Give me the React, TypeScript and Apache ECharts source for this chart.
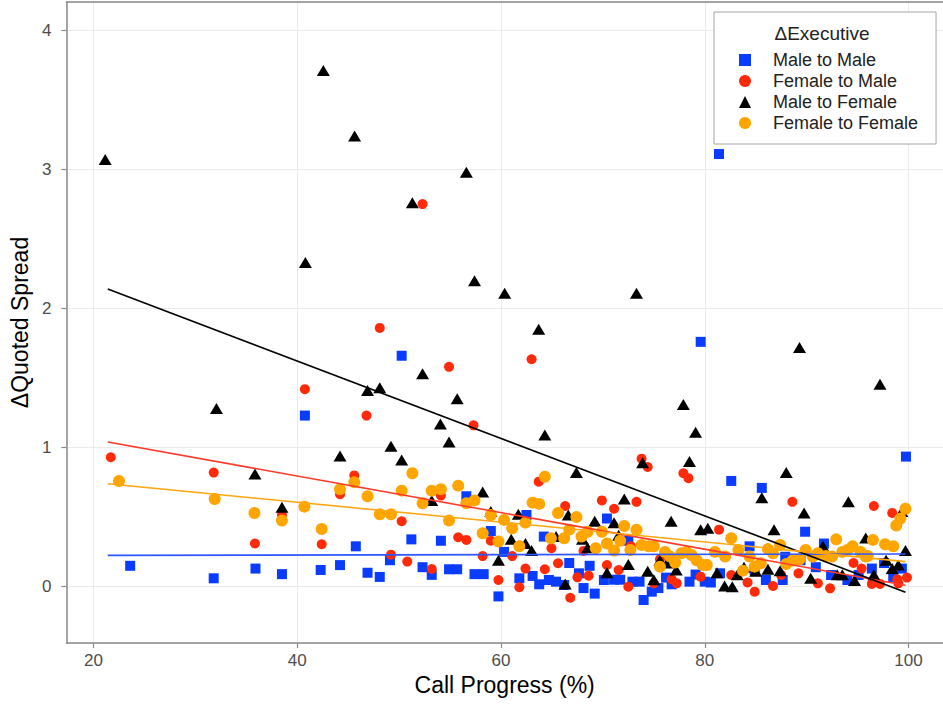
import React, { useEffect, useRef } from "react";
import * as echarts from "echarts";

const seriesNames = ["Male to Male", "Female to Male", "Male to Female", "Female to Female"];

const maleToMale: number[][] = [
  [23.6, 0.15], [31.8, 0.06], [35.9, 0.13], [38.5, 0.09], [40.75, 1.23], [42.3, 0.12], [44.2, 0.155],
  [45.75, 0.29], [46.9, 0.1], [48.1, 0.07], [49.1, 0.19], [50.25, 1.66], [51.2, 0.34], [52.3, 0.14],
  [53.2, 0.085], [54.1, 0.33], [54.9, 0.125], [55.7, 0.125], [56.6, 0.65], [57.4, 0.09], [58.3, 0.09],
  [59.0, 0.4], [59.75, -0.07], [60.3, 0.25], [61.8, 0.06], [62.5, 0.515], [63.1, 0.077], [63.75, 0.017],
  [64.2, 0.36], [64.7, 0.048], [65.4, 0.036], [66.2, 0.012], [66.7, 0.17], [67.65, 0.096], [68.1, -0.01],
  [68.7, 0.15], [69.2, -0.05], [70.1, 0.048], [70.4, 0.49], [71.1, 0.05], [71.7, 0.05], [72.5, 0.33],
  [72.9, 0.036], [73.6, 0.036], [74.0, -0.096], [74.8, -0.036], [75.45, -0.01], [76.2, 0.065],
  [76.75, 0.017], [78.5, 0.036], [79.1, 0.087], [79.6, 1.76], [80.0, 0.036], [80.6, 0.03], [81.4, 3.11],
  [81.5, 0.096], [82.6, 0.76], [84.4, 0.29], [84.9, 0.12], [85.6, 0.71], [86.0, 0.048], [87.65, 0.048],
  [87.9, 0.215], [89.4, 0.19], [89.85, 0.395], [90.9, 0.14], [91.7, 0.31], [92.4, 0.084], [94.0, 0.048],
  [95.1, 0.084], [96.4, 0.13], [97.6, 0.17], [98.5, 0.07], [99.35, 0.13], [99.75, 0.935],
];

const femaleToMale: number[][] = [
  [21.7, 0.93], [31.8, 0.82], [35.85, 0.31], [38.5, 0.515], [40.75, 1.42], [42.4, 0.305], [44.2, 0.665],
  [45.6, 0.8], [46.8, 1.23], [48.1, 1.86], [49.2, 0.23], [50.25, 0.47], [50.8, 0.18], [52.3, 2.75],
  [53.2, 0.127], [54.1, 0.655], [54.9, 1.58], [55.8, 0.355], [56.6, 0.336], [57.3, 1.16], [58.2, 0.22],
  [59.0, 0.33], [59.75, 0.048], [61.1, 0.22], [61.8, -0.004], [62.4, 0.13], [63.0, 1.635], [63.7, 0.755],
  [64.3, 0.125], [64.95, 0.276], [65.6, 0.168], [66.3, 0.58], [66.8, -0.08], [67.5, 0.067], [68.1, 0.257],
  [68.6, 0.079], [69.9, 0.62], [70.4, 0.156], [71.1, 0.56], [71.55, 0.12], [72.5, 0.0], [72.75, 0.29],
  [73.3, 0.61], [73.8, 0.92], [74.4, 0.86], [75.0, 0.024], [75.6, 0.197], [76.75, 0.053], [77.25, 0.024],
  [77.9, 0.815], [78.4, 0.78], [79.6, 0.072], [81.4, 0.41], [82.6, 0.084], [84.2, 0.03], [84.9, -0.036],
  [86.7, 0.005], [87.5, 0.084], [88.6, 0.61], [89.2, 0.096], [91.1, 0.024], [92.3, -0.012], [94.6, 0.17],
  [95.4, 0.13], [96.4, 0.02], [96.6, 0.58], [97.2, 0.02], [98.4, 0.53], [98.9, 0.053], [99.0, 0.024],
  [99.85, 0.065],
];

const maleToFemale: number[][] = [
  [21.15, 3.07], [32.07, 1.28], [35.85, 0.81], [38.5, 0.57], [40.8, 2.33], [42.56, 3.71], [44.2, 0.94],
  [45.63, 3.24], [46.9, 1.41], [48.1, 1.43], [49.2, 1.01], [50.25, 0.91], [51.3, 2.76], [52.3, 1.53],
  [53.2, 0.62], [54.05, 1.17], [54.9, 1.04], [55.7, 1.35], [56.6, 2.98], [57.4, 2.2], [58.2, 0.68],
  [59.0, 0.54], [59.75, 0.19], [60.36, 2.11], [61.0, 0.34], [61.7, 0.52], [62.4, 0.31], [63.0, 0.26],
  [63.7, 1.85], [64.3, 1.09], [65.4, 0.36], [66.3, 0.02], [66.6, 0.515], [67.4, 0.82], [68.0, 0.34],
  [68.5, 0.28], [69.2, 0.47], [70.4, 0.1], [71.1, 0.46], [71.55, 0.37], [72.1, 0.63], [72.5, 0.16],
  [73.3, 2.11], [73.9, 0.89], [74.4, 0.11], [75.0, 0.05], [75.6, 0.19], [76.3, 0.17], [76.7, 0.47],
  [77.2, 0.12], [77.9, 1.31], [78.5, 0.9], [79.1, 1.11], [79.6, 0.41], [80.3, 0.42], [81.2, 0.1],
  [81.95, 0.005], [82.7, 0.0], [83.2, 0.085], [83.85, 0.14], [85.0, 0.11], [85.6, 0.64], [86.2, 0.125],
  [86.8, 0.41], [87.4, 0.115], [88.0, 0.82], [89.3, 1.72], [89.75, 0.53], [90.4, 0.06], [91.6, 0.29],
  [93.0, 0.085], [93.5, 0.085], [94.1, 0.61], [94.7, 0.045], [95.8, 0.35], [96.6, 0.085], [97.2, 1.455],
  [97.8, 0.19], [98.4, 0.13], [99.0, 0.155], [99.35, 0.54], [99.7, 0.26],
];

const femaleToFemale: number[][] = [
  [22.5, 0.76], [31.9, 0.63], [35.8, 0.53], [38.5, 0.475], [40.7, 0.575], [42.4, 0.415], [44.2, 0.7],
  [45.6, 0.75], [46.9, 0.65], [48.1, 0.52], [49.2, 0.52], [50.25, 0.69], [51.3, 0.815], [52.3, 0.6],
  [53.2, 0.69], [54.1, 0.7], [54.9, 0.475], [55.8, 0.726], [56.6, 0.6], [57.4, 0.62], [58.2, 0.384],
  [59.0, 0.515], [59.75, 0.324], [60.3, 0.48], [61.1, 0.42], [61.8, 0.29], [62.4, 0.46], [63.1, 0.604],
  [63.75, 0.595], [64.3, 0.79], [64.9, 0.348], [65.6, 0.53], [66.2, 0.348], [66.7, 0.41], [67.4, 0.5],
  [67.9, 0.36], [68.5, 0.395], [69.3, 0.276], [69.9, 0.395], [70.4, 0.31], [71.1, 0.26], [71.7, 0.33],
  [72.1, 0.436], [72.7, 0.264], [73.3, 0.41], [73.8, 0.3], [74.5, 0.29], [75.0, 0.29], [75.6, 0.144],
  [76.1, 0.25], [76.6, 0.216], [77.1, 0.173], [77.7, 0.24], [78.2, 0.25], [78.7, 0.228], [79.2, 0.19],
  [79.8, 0.156], [80.2, 0.156], [81.0, 0.25], [82.0, 0.216], [82.6, 0.348], [83.3, 0.264], [83.75, 0.115],
  [84.4, 0.216], [84.9, 0.144], [85.5, 0.168], [86.2, 0.27], [86.7, 0.24], [87.4, 0.3], [88.0, 0.163],
  [88.6, 0.187], [89.3, 0.197], [89.9, 0.264], [90.6, 0.216], [91.1, 0.24], [91.9, 0.22], [92.5, 0.216],
  [92.9, 0.34], [93.5, 0.25], [94.0, 0.264], [94.5, 0.29], [95.3, 0.25], [95.8, 0.216], [96.0, 0.22],
  [96.5, 0.336], [97.7, 0.305], [98.5, 0.29], [98.8, 0.44], [99.2, 0.49], [99.7, 0.56],
];

// fitted trend lines (start and end of each)
const trendX = [21.4, 99.7];
const trendMaleToMale = [0.225, 0.235];
const trendFemaleToMale = [1.04, 0.01];
const trendMaleToFemale = [2.14, -0.04];
const trendFemaleToFemale = [0.74, 0.18];

const xTitle = "Call Progress (%)";
const yTitle = "ΔQuoted Spread";
const legendTitle = "ΔExecutive";

const FONT = "'Liberation Sans', Arial, Helvetica, sans-serif";

export default function App() {
  const ref = useRef<HTMLDivElement>(null);
  useEffect(() => {
    document.body.style.margin = "0";
    if (!ref.current) return;
    const chart = echarts.init(ref.current, undefined, { renderer: "svg" });
    const xMin = 17.337, xMax = 103.385, yMin = -0.405, yMax = 4.203;
    const colors = ["#0a3cff", "#ff2a0a", "#000000", "#ffa500"];
    const lineColors = ["#2f55ff", "#ff3a2a", "#000000", "#ffa50f"];
    const fitLine = (vals: number[]) => trendX.map((x, i) => [x, vals[i]]);
    const scat = (name: string, data: number[][], symbol: string, size: any, color: string) => ({
      name, type: "scatter", data, symbol, symbolSize: size,
      itemStyle: { color, opacity: 1 }, emphasis: { disabled: true }, silent: true,
    });
    const fit = (name: string, vals: number[], color: string) => ({
      name, type: "line", data: fitLine(vals), showSymbol: false, symbol: "none",
      lineStyle: { color, width: 1.6 }, silent: true, z: 5,
    });
    const axisLineStyle = { color: "#8a8a8a", width: 1.5 };
    chart.setOption({
      animation: false,
      backgroundColor: "#ffffff",
      textStyle: { fontFamily: FONT },
      grid: { left: 61, right: 0, top: 2, bottom: 61, containLabel: false },
      xAxis: [
        {
          type: "value", min: xMin, max: xMax, splitNumber: 5,
          name: xTitle, nameLocation: "middle", nameGap: 30,
          nameTextStyle: { fontSize: 23, color: "#000", fontFamily: FONT },
          axisLine: { show: true, onZero: false, lineStyle: axisLineStyle },
          axisTick: { show: true, length: 5, lineStyle: { color: "#8a8a8a", width: 1.2 } },
          axisLabel: { fontSize: 17, color: "#4d4d4d", margin: 9, showMinLabel: false, showMaxLabel: false, fontFamily: FONT },
          splitLine: { show: true, lineStyle: { color: "#ebebeb", width: 1 } },
        },
        {
          type: "value", min: xMin, max: xMax, position: "top",
          axisLine: { show: true, onZero: false, lineStyle: axisLineStyle },
          axisTick: { show: false }, axisLabel: { show: false }, splitLine: { show: false },
        },
      ],
      yAxis: {
        type: "value", min: yMin, max: yMax, splitNumber: 5,
        name: yTitle, nameLocation: "middle", nameGap: 27, nameRotate: 90,
        nameTextStyle: { fontSize: 23, color: "#000", fontFamily: FONT },
        axisLine: { show: true, onZero: false, lineStyle: axisLineStyle },
        axisTick: { show: true, length: 5, lineStyle: { color: "#8a8a8a", width: 1.2 } },
        axisLabel: { fontSize: 17, color: "#4d4d4d", margin: 15, showMinLabel: false, showMaxLabel: false, fontFamily: FONT },
        splitLine: { show: true, lineStyle: { color: "#ebebeb", width: 1 } },
      },
      legend: {
        show: true, orient: "vertical", left: 714, top: 12,
        padding: [39, 18, 12, 25], itemWidth: 12, itemHeight: 12, itemGap: 3,
        backgroundColor: "#ffffff", borderColor: "#a6a6a6", borderWidth: 1,
        textStyle: { fontSize: 18, color: "#222", fontFamily: FONT, lineHeight: 18, padding: [0, 0, 0, 17] },
        selectedMode: false,
        data: [
          { name: seriesNames[0], icon: "rect" },
          { name: seriesNames[1], icon: "circle" },
          { name: seriesNames[2], icon: "triangle" },
          { name: seriesNames[3], icon: "circle" },
        ],
      },
      graphic: [
        {
          type: "text", z: 100, x: 822, y: 33,
          style: { text: legendTitle, fontSize: 19, fill: "#222", fontFamily: FONT, textAlign: "center", textVerticalAlign: "middle" },
        },
      ],
      series: [
        scat(seriesNames[0], maleToMale, "rect", 10, colors[0]),
        scat(seriesNames[1], femaleToMale, "circle", 10, colors[1]),
        scat(seriesNames[2], maleToFemale, "triangle", [13, 11], colors[2]),
        scat(seriesNames[3], femaleToFemale, "circle", 12, colors[3]),
        fit("Male to Male fit", trendMaleToMale, lineColors[0]),
        fit("Female to Male fit", trendFemaleToMale, lineColors[1]),
        fit("Male to Female fit", trendMaleToFemale, lineColors[2]),
        fit("Female to Female fit", trendFemaleToFemale, lineColors[3]),
      ],
    });
    return () => chart.dispose();
  }, []);
  return <div ref={ref} style={{ width: 943, height: 704 }} />;
}
